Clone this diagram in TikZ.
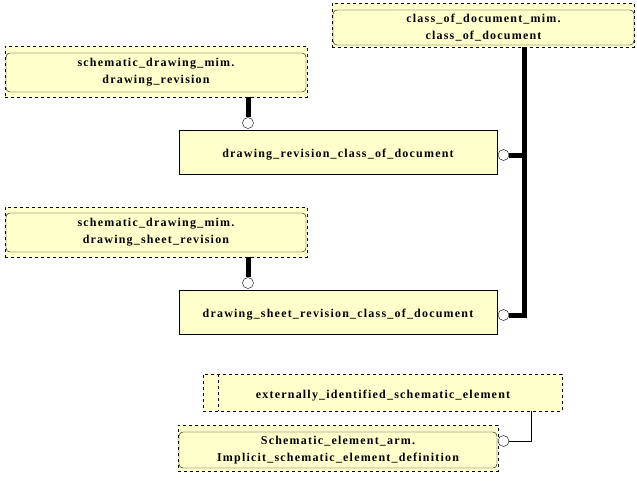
\documentclass[tikz,border=0pt]{standalone}
\usepackage{fontspec}
\setmainfont{Liberation Serif}[LetterSpace=10]
\definecolor{boxfill}{HTML}{FFFFCC}
\begin{document}
\begin{tikzpicture}[x=1pt,y=-1pt,
    outerbox/.style={draw,dashed,fill=boxfill,inner sep=0pt,minimum width=#1},
    innerbox/.style={draw,rounded corners=4pt,inner sep=0pt,minimum width=#1,minimum height=38pt,align=center,font=\bfseries\fontsize{12}{17}\selectfont},
    plainbox/.style={draw,fill=boxfill,inner sep=0pt,minimum width=318pt,minimum height=44pt,text height=11pt,text depth=0.6pt,font=\bfseries\fontsize{12}{14}\selectfont},
    circ/.style={draw,fill=white,circle,inner sep=0pt,minimum size=11pt},
    thickline/.style={line width=5pt,line join=miter},
    thinline/.style={line width=0.8pt}]
    \useasboundingbox (0,0) rectangle (637,485);

    % referenced entities (dashed frame with rounded inner box)
    \node[outerbox=302pt,minimum height=44pt] (cod frame) at (483,25) {};
    \node[innerbox=301pt,minimum height=35pt] (cod) at (483.5,27.5) {class\_of\_document\_mim.\\class\_of\_document};

    \node[outerbox=302pt,minimum height=51pt] (dr frame) at (156,71.5) {};
    \node[innerbox=300pt,minimum height=39pt] (dr) at (156,72.5) {schematic\_drawing\_mim.\\drawing\_revision};

    \node[outerbox=302pt,minimum height=50pt] (dsr frame) at (156,232) {};
    \node[innerbox=300pt,minimum height=39pt] (dsr) at (156,232.5) {schematic\_drawing\_mim.\\drawing\_sheet\_revision};

    % the entities of this schema
    \node[plainbox] (drcod) at (338,152) {drawing\_revision\_class\_of\_document};
    \node[plainbox] (dsrcod) at (338,312) {drawing\_sheet\_revision\_class\_of\_document};

    % supertype with dashed frame and inner mark
    \node[outerbox=359pt,minimum height=37pt] (eise) at (382.5,392.5) {};
    \draw[dashed] (218,374) -- (218,411);
    \node[text height=11pt,text depth=0.6pt,font=\bfseries\fontsize{12}{14}\selectfont] (eise text) at (383,393) {externally\_identified\_schematic\_element};

    \node[outerbox=320pt,minimum height=46pt] (ised frame) at (338,448) {};
    \node[innerbox=318pt,minimum height=36pt] (ised) at (338,450) {Schematic\_element\_arm.\\Implicit\_schematic\_element\_definition};

    % circle ends
    \node[circ] (c1) at (248,123) {};
    \node[circ] (c2) at (248,283) {};
    \node[circ] (c3) at (503.5,155) {};
    \node[circ] (c4) at (503.5,315) {};
    \node[circ] (c5) at (503.5,441) {};

    \coordinate (j1) at (524,155);
    \coordinate (j2) at (524,315);
    \coordinate (j3) at (531,441);

    % relationships
    \draw[thickline] (dr frame.south -| c1) -- (c1.north);
    \draw[thickline] (dsr frame.south -| c2) -- (c2.north);
    \draw[thickline] (cod frame.south -| j1) -- (j2) -- (c4.east);
    \draw[thickline] (c3.east) -- (j1);
    \draw[thinline] (c5.east) -- (j3) -- (eise.south -| j3);
\end{tikzpicture}
\end{document}
